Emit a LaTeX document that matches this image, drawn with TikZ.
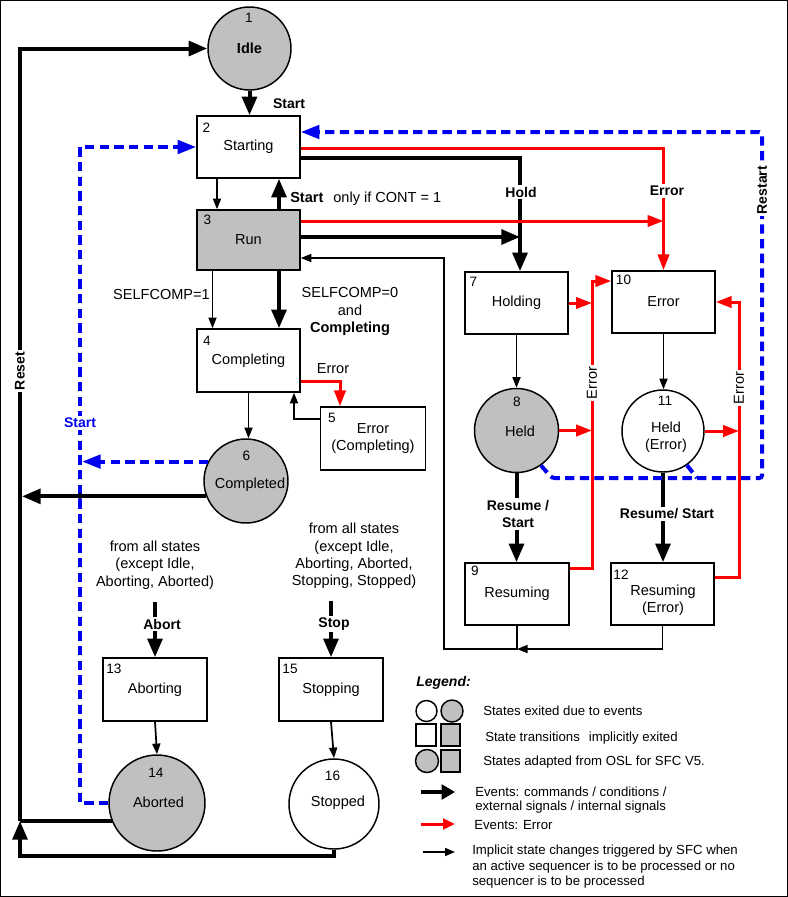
\documentclass[tikz,border=0pt]{standalone}
\usepackage{fontspec}
\setmainfont{Liberation Sans}
\usetikzlibrary{arrows.meta}
\definecolor{stgray}{RGB}{192,192,192}
\definecolor{evred}{RGB}{255,0,0}
\definecolor{evblue}{RGB}{0,0,240}
\begin{document}
\begin{tikzpicture}[x=0.75pt,y=-0.75pt,
  font=\fontsize{10.9}{13}\selectfont,
  box/.style={draw, line width=1.1pt, minimum width=103*0.75pt, minimum height=62*0.75pt, inner sep=0pt, align=center},
  st/.style={circle, draw, line width=1.1pt, inner sep=0pt, align=center},
  num/.style={inner sep=0pt, font=\fontsize{10.2}{12}\selectfont},
  lab/.style={inner sep=1.5pt, font=\fontsize{10.5}{13}\selectfont\bfseries, align=center},
  txt/.style={inner sep=0pt, align=center},
  lgt/.style={inner sep=0pt, anchor=west, align=left, font=\fontsize{9.9}{11.6}\selectfont},
  thk/.style={line width=3pt},
  thkarr/.style={thk, -{Triangle[length=14pt,width=11pt]}},
  thn/.style={line width=1.3pt},
  thnarr/.style={thn, -{Triangle[length=8pt,width=6pt]}},
  redl/.style={draw=evred, line width=2.25pt},
  redarr/.style={redl, -{Triangle[length=12pt,width=8.5pt]}},
  bdash/.style={draw=evblue, line width=3pt, dash pattern=on 7pt off 4pt},
  bluearr/.style={bdash, -{Triangle[length=14pt,width=10pt]}}
]
\useasboundingbox (0,0) rectangle (788,897);
\draw[line width=0.9pt] (0.6,0.6) rectangle (787.4,896.4);

% ---------- states ----------
\node[st, fill=stgray, minimum size=83*0.75pt] (idle) at (249.5,48.5) {\textbf{Idle}};
\node[box] (starting) at (248.5,147) {Starting};
\node[box, fill=stgray, minimum height=60*0.75pt] (run) at (248.5,240) {Run};
\node[box, minimum height=63*0.75pt] (completing) at (248.5,360.5) {Completing};
\node[box, minimum width=105*0.75pt, minimum height=63*0.75pt] (errc) at (373,438.5) {Error\\(Completing)};
\node[st, fill=stgray, minimum size=84*0.75pt] (completed) at (246,481) {};
\node[txt] (completedt) at (250,485) {Completed};
\node[box] (holding) at (516.5,303) {Holding};
\node[st, fill=stgray, minimum size=84*0.75pt] (held) at (516.5,430.5) {};
\node[txt] (heldt) at (520,431) {Held};
\node[box, minimum width=104*0.75pt] (resuming) at (517,594) {Resuming};
\node[box] (error) at (663.5,302) {Error};
\node[st, minimum size=82*0.75pt] (helderr) at (663,431) {};
\node[txt] (helderrt) at (666,437) {Held\\(Error)};
\node[box] (resumingerr) at (662.5,594) {};
\node[txt] (resumingerrt) at (663,600.5) {Resuming\\(Error)};
\node[box, minimum width=104*0.75pt, minimum height=63*0.75pt] (aborting) at (155,689.5) {Aborting};
\node[st, fill=stgray, minimum size=96*0.75pt] (aborted) at (157,803) {};
\node[txt] (abortedt) at (158.5,802) {Aborted};
\node[box, minimum width=104*0.75pt, minimum height=63*0.75pt] (stopping) at (331,689.5) {Stopping};
\node[st, minimum size=90*0.75pt] (stopped) at (334,804) {};
\node[txt] (stoppedt) at (338,803) {Stopped};

% ---------- numbers ----------
\node[num] (n1) at (249,18) {1};
\node[num] (n2) at (206.5,127.5) {2};
\node[num] (n3) at (207.5,220) {3};
\node[num] (n4) at (207,341) {4};
\node[num] (n5) at (332,418) {5};
\node[num] (n6) at (246.5,456) {6};
\node[num] (n7) at (473.5,282) {7};
\node[num] (n8) at (517,402) {8};
\node[num] (n9) at (475,571) {9};
\node[num] (n10) at (623.5,280) {10};
\node[num] (n11) at (665,401) {11};
\node[num] (n12) at (621,575) {12};
\node[num] (n13) at (114,669) {13};
\node[num] (n14) at (156,773) {14};
\node[num] (n15) at (290,669) {15};
\node[num] (n16) at (332.5,776) {16};

% ---------- junction coordinates ----------
\coordinate (rTop) at (20,48.5);
\coordinate (rJ) at (20,821);
\coordinate (rB) at (20,856);
\coordinate (rC) at (22,496);
\coordinate (bTop) at (80,147);
\coordinate (bBot) at (80,803);
\coordinate (bC) at (82,462);
\coordinate (rsA) at (552,478);
\coordinate (rsB) at (762,478);
\coordinate (rsC) at (762,132);
\coordinate (rsD) at (697,478);
\coordinate (hT) at (520,158);
\coordinate (rH) at (520,237);
\coordinate (eT) at (663.5,148);
\coordinate (eR) at (663.5,221);
\coordinate (vl) at (592,0);
\coordinate (vr) at (739,0);
\coordinate (rq) at (0,568);
\coordinate (rq2) at (0,577);
\coordinate (eL) at (0,281);
\coordinate (c5) at (340,381);
\coordinate (c4) at (294,419);
\coordinate (sx) at (217,0);
\coordinate (tx) at (279,0);
\coordinate (sx2) at (212.5,0);
\coordinate (jr) at (517,649);
\coordinate (jl) at (444,649);
\coordinate (jt) at (444,258);
\coordinate (ab0) at (155,602);
\coordinate (st0) at (331,601);

% ---------- blue dashed (Start / Restart) ----------
\draw[bluearr] (aborted.west) -- (bBot) -- (bTop) -- (starting.west);
\draw[bluearr] (completed.153) -- (completed.153 -| bC);

% ---------- black thick ----------
\draw[thkarr] (stopped.south) |- (rB) -- (rJ);
\draw[thk] (aborted.202) -- (aborted.202 -| rJ);
\draw[thkarr] (rJ) -- (rTop) -- (idle.west);
\draw[thkarr] (completed.201) -- (completed.201 -| rC);
\node[circle, fill, inner sep=0pt, minimum size=4.5pt] (dot) at (80,496) {};
\node[lab, fill=white, rotate=90] (reset) at (20,371) {Reset};
\node[lab, text=evblue, fill=white] (bstart) at (80,423) {Start};

\draw[thkarr] (idle.south) -- (idle.south |- starting.north);
\node[lab] (startlab) at (289,104) {Start};
\draw[thnarr] (starting.south -| sx) -- (run.north -| sx);
\draw[thkarr] (run.north -| tx) -- (starting.south -| tx);
\node[txt, anchor=west] (contlab) at (290,199) {\textbf{Start}\hspace{7.5pt}only if CONT = 1};
\draw[thnarr] (run.south -| sx2) -- (completing.north -| sx2);
\draw[thkarr] (run.south -| tx) -- (completing.north -| tx);
\node[txt, anchor=east] (sc1) at (210,294) {SELFCOMP=1};
\node[txt] (sc0) at (350,311.5) {SELFCOMP=0\\and\\\textbf{Completing}};
\draw[thnarr] (completing.south) -- (completing.south |- completed.north);

\draw[thkarr] (hT -| starting.east) -- (hT) -- (hT |- holding.north);
\draw[thkarr] (rH -| run.east) -- (rH);
\node[lab, fill=white] (holdlab) at (521,192) {Hold};

% red from Starting / Run
\draw[redarr] (eT -| starting.east) -- (eT) -- (error.north);
\draw[redarr] (eR -| run.east) -- (eR);
\node[lab, fill=white] (errlab) at (667,191) {Error};

% Completing / Error(Completing)
\draw[redarr] (c5 -| completing.east) -- (c5) -- (c5 |- errc.north);
\node[txt] (e45) at (333,369) {Error};
\draw[thnarr] (c4 -| errc.west) -- (c4) -- (c4 |- completing.south);

% hold branch
\draw[thnarr] (holding.south) -- (held.north);
\draw[thkarr] (held.south) -- (held.south |- resuming.north);
\node[lab, fill=white] (reslab1) at (518,514) {Resume /\\Start};
\draw[thnarr] (error.south) -- (error.south |- helderr.north);
\draw[thkarr] (helderr.south) -- (helderr.south |- resumingerr.north);
\node[lab, fill=white] (reslab2) at (667,514) {Resume/ Start};

% return to Run
\draw[thnarr] (resuming.south) -- (jr) -- (jl) -- (jt) -- (jt -| run.east);
\draw[thnarr] (resumingerr.south) |- (jr);

% red error net
\draw[redarr] (holding.east) -- (holding.east -| vl);
\draw[redarr] (held.east) -- (held.east -| vl);
\draw[redarr] (rq -| resuming.east) -- (rq -| vl) -- (eL -| vl) -- (eL -| error.west);
\draw[redarr] (rq2 -| resumingerr.east) -- (rq2 -| vr) -- (error.east -| vr) -- (error.east);
\draw[redarr] (helderr.east) -- (helderr.east -| vr);
\node[txt, rotate=90, fill=white, inner sep=1.5pt] (el1) at (592,383) {Error};
\node[txt, rotate=90, fill=white, inner sep=1.5pt] (el2) at (739,388) {Error};

% restart (blue, drawn on top)
\draw[bluearr, rounded corners=2pt] (held.305) -- (rsA) -- (rsB) -- (rsC) -- (rsC -| starting.east);
\draw[bdash] (helderr.305) -- (rsD);
\node[lab, rotate=90, fill=white] (restartlab) at (762,190) {Restart};

% abort / stop
\node[txt] (fromA) at (155,565) {from all states\\(except Idle,\\Aborting, Aborted)};
\node[txt] (fromS) at (354,556) {from all states\\(except Idle,\\Aborting, Aborted,\\Stopping, Stopped)};
\draw[thkarr] (ab0) -- (aborting.north);
\node[lab, fill=white] (ablab) at (162,624) {Abort};
\draw[thkarr] (st0) -- (stopping.north);
\node[lab, fill=white] (stlab) at (334,624) {Stop};
\draw[thnarr] (aborting.south) -- (aborted.north);
\draw[thnarr] (stopping.south) -- (stopped.north);

% ---------- legend ----------
\node[inner sep=0pt, anchor=west, font=\fontsize{10.5}{13}\selectfont\bfseries\itshape] (lgtitle) at (416,683) {Legend:};
\node[st, minimum size=21*0.75pt] (lg1) at (426.5,711) {};
\node[st, fill=stgray, minimum size=22*0.75pt] (lg2) at (452,711) {};
\node[draw, line width=1.1pt, minimum width=20*0.75pt, minimum height=22*0.75pt, inner sep=0pt] (lg3) at (426,735) {};
\node[draw, fill=stgray, line width=1.1pt, minimum width=19*0.75pt, minimum height=22*0.75pt, inner sep=0pt] (lg4) at (450.5,735) {};
\node[st, fill=stgray, minimum size=23*0.75pt] (lg5) at (427,761) {};
\node[draw, fill=stgray, line width=1.1pt, minimum width=19*0.75pt, minimum height=22*0.75pt, inner sep=0pt] (lg6) at (450.5,761) {};
\node[lgt] (lt1) at (483,711) {States exited due to events};
\node[lgt] (lt2) at (485,738) {State transitions\hspace{4pt} implicitly exited};
\node[lgt] (lt3) at (483,762) {States adapted from OSL for SFC V5.};
\coordinate (la1) at (421,792);
\coordinate (la2) at (455,792);
\draw[thk, -{Triangle[length=10pt,width=11pt]}] (la1) -- (la2);
\node[lgt, font=\fontsize{9.9}{10.8}\selectfont] (lt4) at (475,800) {Events: commands / conditions /\\external signals / internal signals};
\coordinate (lb1) at (421,824);
\coordinate (lb2) at (455,824);
\draw[redl, -{Triangle[length=9pt,width=8pt]}] (lb1) -- (lb2);
\node[lgt] (lt5) at (474,825) {Events: Error};
\coordinate (lc1) at (423,852);
\coordinate (lc2) at (455,852);
\draw[thn, -{Triangle[length=7.5pt,width=6pt]}] (lc1) -- (lc2);
\node[lgt, anchor=north west] (lt6) at (472,845) {Implicit state changes triggered by SFC when\\an active sequencer is to be processed or no\\sequencer is to be processed};
\end{tikzpicture}
\end{document}
